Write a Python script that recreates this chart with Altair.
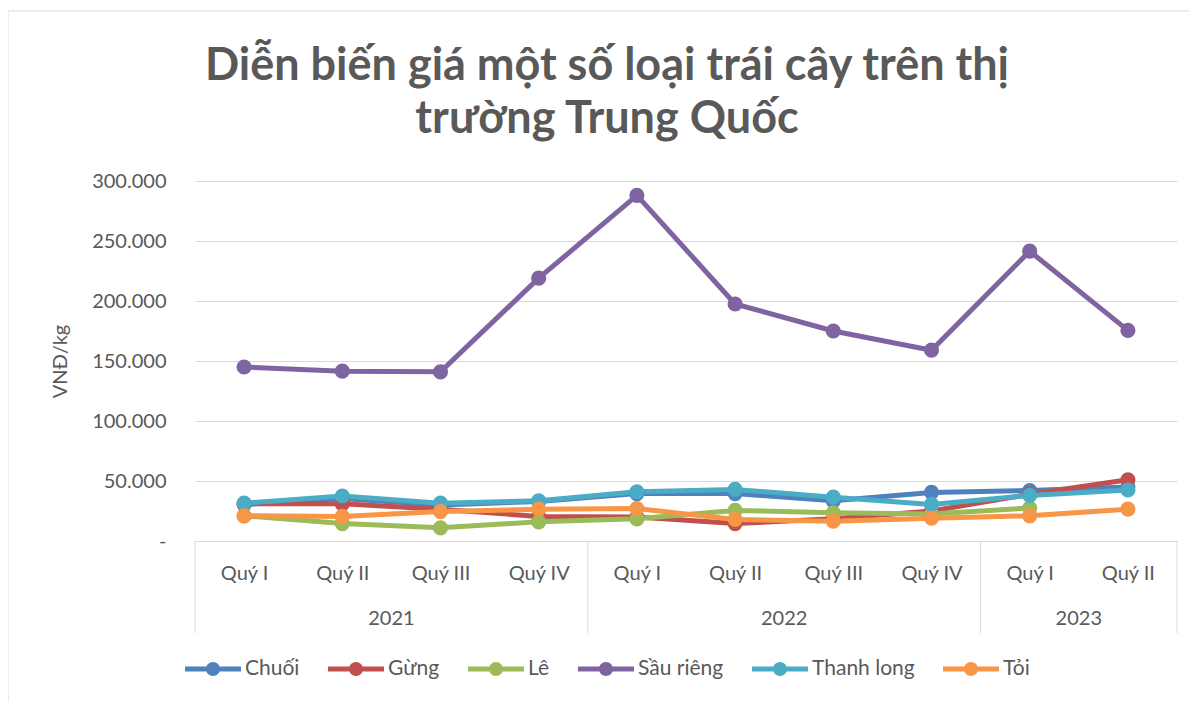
import json
import altair as alt
import pandas as pd

# ---- data ----
title_lines = ["Diễn biến giá một số loại trái cây trên thị", "trường Trung Quốc"]
quarters = ["Quý I", "Quý II", "Quý III", "Quý IV",
            "Quý I", "Quý II", "Quý III", "Quý IV",
            "Quý I", "Quý II"]
years = ["2021", "2022", "2023"]
year_centers = [1.5, 5.5, 8.5]
year_bounds = [-0.5, 3.5, 7.5, 9.5]

series = ["Chuối", "Gừng", "Lê", "Sầu riêng", "Thanh long", "Tỏi"]
colors = ["#4F81BD", "#C0504D", "#9BBB59", "#8064A2", "#4BACC6", "#F79646"]

chuoi = [30500, 35500, 30000, 33000, 39500, 39500, 33500, 40500, 42000, 45000]
gung = [31000, 31000, 26500, 20500, 20000, 14500, 18500, 25000, 39000, 51000]
le = [21000, 14500, 11000, 16000, 18500, 25500, 23500, 22500, 27500, None]
sau_rieng = [145000, 141500, 141000, 219000, 288000, 197500, 175000, 159000, 241500, 175500]
thanh_long = [31500, 37500, 31500, 33500, 41000, 43000, 36500, 30500, 38000, 42500]
toi = [21000, 20500, 24500, 26500, 27000, 18000, 16500, 19000, 21000, 26500]

values = [chuoi, gung, le, sau_rieng, thanh_long, toi]

rows = []
for s_i, (name, vals) in enumerate(zip(series, values)):
    for q_i, v in enumerate(vals):
        if v is not None:
            rows.append({"series": name, "order": s_i, "idx": q_i, "price": v})
df = pd.DataFrame(rows)

year_df = pd.DataFrame({"year": years, "center": year_centers})
sep_df = pd.DataFrame({"pos": year_bounds})
one_df = pd.DataFrame({"a": [0]})

FONT = "Lato"
GRAY = "#595959"
GRID = "#D9D9D9"

W, H = 982, 360

label_expr = json.dumps(quarters) + "[datum.value]"

x_scale = alt.Scale(domain=[-0.5, 9.5], nice=False, zero=False)
y_scale = alt.Scale(domain=[0, 300000], nice=False)

color_scale = alt.Scale(domain=series, range=colors)

# custom legend glyph: line with a dot in the middle ([-1,1] unit space)
legend_path = ("M-1,-0.18H3V0.18H-1Z "
               "M0.5,0A0.5,0.5 0 1,1 1.5,0A0.5,0.5 0 1,1 0.5,0Z")

x_enc = alt.X(
    "idx:Q", scale=x_scale, title=None,
    axis=alt.Axis(values=list(range(10)), labelExpr=label_expr, grid=False,
                  ticks=False, tickSize=0, domain=True, domainColor=GRID,
                  labelFont=FONT, labelFontSize=20, labelColor=GRAY,
                  labelPadding=32, labelBaseline="middle", labelFlush=False),
)
y_enc = alt.Y(
    "price:Q", scale=y_scale,
    axis=alt.Axis(values=[0, 50000, 100000, 150000, 200000, 250000, 300000],
                  labelExpr="datum.value == 0 ? '-' : replace(format(datum.value, ',.0f'), regexp(',', 'g'), '.')",
                  grid=True, gridColor=GRID, domain=False, ticks=False,
                  labelFont=FONT, labelFontSize=20, labelColor=GRAY,
                  labelPadding=29, title="VNĐ/kg", titleFont=FONT,
                  titleFontSize=20, titleFontWeight="normal", titleColor=GRAY,
                  titleX=-135, titleY=180, titleAngle=270,
                  titleAlign="center", titleBaseline="middle"),
)

color_enc = alt.Color(
    "series:N", scale=color_scale, sort=series,
    legend=alt.Legend(orient="none", legendX=-10, legendY=474,
                      direction="horizontal", columns=6, title=None,
                      symbolType=legend_path, symbolSize=784,
                      symbolStrokeWidth=0, symbolOpacity=1,
                      labelFont=FONT, labelFontSize=21, labelColor=GRAY,
                      labelOffset=32, columnPadding=28),
)

base = alt.Chart(df)

lines = base.mark_line(strokeWidth=5).encode(
    x=x_enc, y=y_enc, color=color_enc, detail="series:N",
    order="idx:Q",
)
points = base.mark_point(filled=True, size=230, opacity=1).encode(
    x=alt.X("idx:Q", scale=x_scale), y=alt.Y("price:Q", scale=y_scale),
    color=color_enc,
)

seps = alt.Chart(sep_df).mark_rule(color=GRID, strokeWidth=1).encode(
    x=alt.X("pos:Q", scale=x_scale), y=alt.value(H), y2=alt.value(452),
)
year_text = alt.Chart(year_df).mark_text(
    font=FONT, fontSize=20, color=GRAY, baseline="middle", align="center"
).encode(
    x=alt.X("center:Q", scale=x_scale), y=alt.value(438), text="year:N",
)
frame = alt.Chart(one_df).mark_rect(
    fill="transparent", stroke=GRID, strokeWidth=1
).encode(
    x=alt.value(-187), x2=alt.value(1000), y=alt.value(-170), y2=alt.value(530),
)

title_layers = [
    alt.Chart(one_df).mark_text(
        font=FONT, fontSize=45, fontWeight="bold", color=GRAY,
        align="center", baseline="alphabetic",
    ).encode(x=alt.value(412), y=alt.value(yy), text=alt.value(t))
    for t, yy in zip(title_lines, [-101, -48])
]

chart = alt.layer(frame, *title_layers, seps, year_text, lines, points).properties(
    width=W, height=H,
    autosize=alt.AutoSizeParams(type="none"),
    padding={"left": 187, "top": 173, "right": 12, "bottom": 161},
).configure_view(stroke=None)

chart.save("out.html", embed_options={"renderer": "svg", "actions": False})
